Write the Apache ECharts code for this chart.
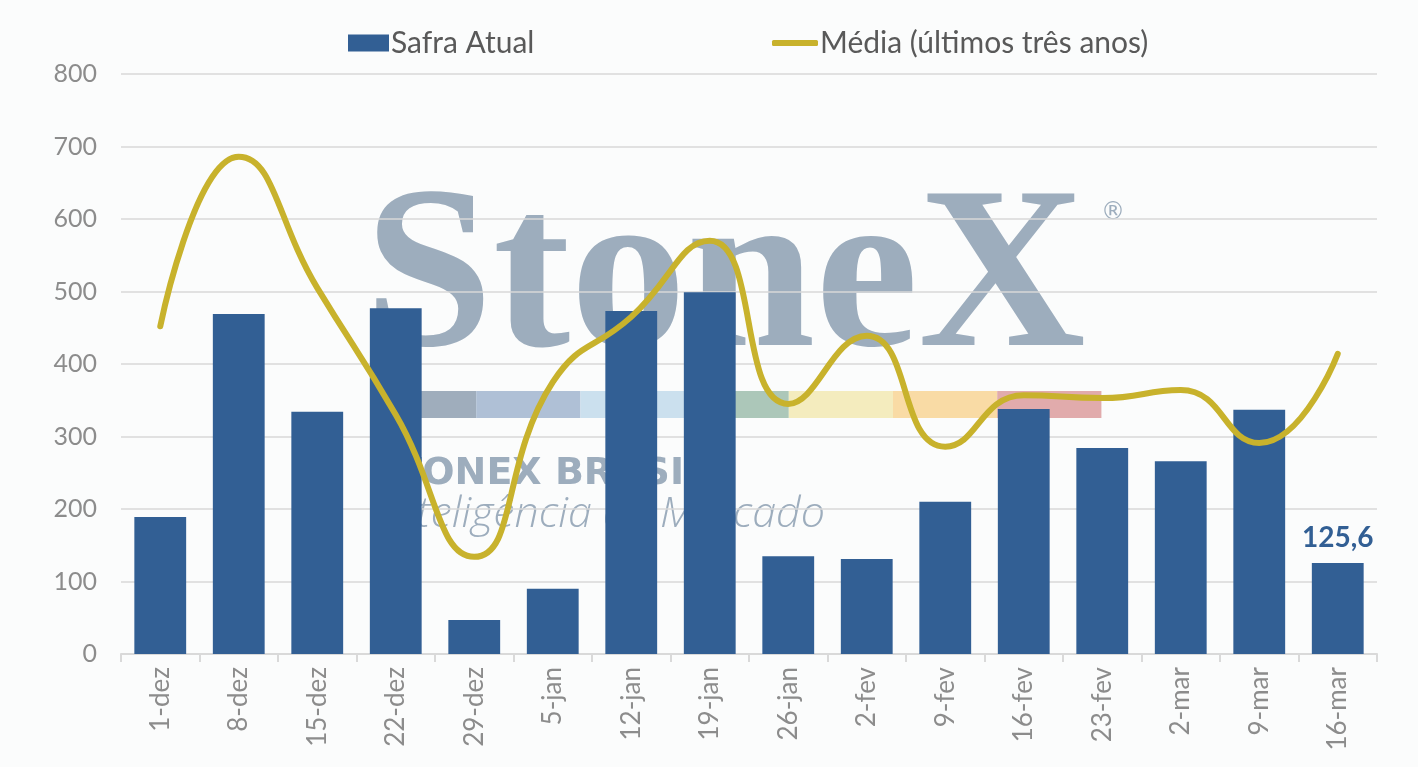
<!DOCTYPE html>
<html lang="pt">
<head>
<meta charset="UTF-8" />
<title>Safra Atual x Média</title>
</head>
<body>
<style>
* { margin: 0; padding: 0; }
body { background: #fbfcfc; }
#chart { width: 1418px; height: 767px; }
</style>
<div id="chart"></div>
<script src="https://cdn.jsdelivr.net/npm/echarts@6/dist/echarts.min.js"></script>
<script>
// semanas
const categories = ['1-dez', '8-dez', '15-dez', '22-dez', '29-dez', '5-jan', '12-jan', '19-jan',
  '26-jan', '2-fev', '9-fev', '16-fev', '23-fev', '2-mar', '9-mar', '16-mar'];
// Safra Atual
const safraAtual = [189, 469, 334, 477, 47, 90, 473, 499, 135, 131, 210, 338, 284, 266, 337, 125.6];
// Média (últimos três anos)
const media = [452, 686, 505, 330, 134, 375, 465, 570, 345, 439, 286, 357, 353, 364, 291, 414];

const BLUE = '#325f94';
const GOLD = '#c8b22c';
const WM = '#9dadbd';
const FONT = 'Lato';

// faixa colorida da marca d'água
const bandColors = ['#9aa9b8', '#abbdd4', '#c8deed', '#a8c4b5', '#f3ebba', '#f9d9a0', '#dfa7a8'];
const bandEls = bandColors.map(function (c, i) {
  return {
    type: 'rect', z: -1, silent: true,
    shape: { x: 372 + i * 104.2, y: 391, width: 104.2, height: 27 },
    style: { fill: c, opacity: 0.95 }
  };
});

const chart = echarts.init(document.getElementById('chart'));
chart.setOption({
  backgroundColor: '#fbfcfc',
  animation: false,
  textStyle: { fontFamily: FONT },
  graphic: bandEls.concat([
    {
      type: 'text', z: -1, silent: true, left: 364, top: 169,
      style: { text: 'StoneX', font: 'bold 232px "Liberation Serif"', fill: WM }
    },
    {
      type: 'text', z: -1, silent: true, left: 1101, top: 201,
      style: { text: '®', font: '24px "DejaVu Sans"', fill: WM }
    },
    {
      type: 'text', z: -1, silent: true, left: 369, top: 455,
      style: { text: 'STONEX BRASIL', font: 'bold 38px "DejaVu Sans"', fill: WM }
    },
    {
      type: 'text', z: -1, silent: true, left: 382, top: 493,
      style: { text: 'Inteligência de Mercado', font: 'italic 300 43px "Open Sans"', fill: WM }
    }
  ]),
  legend: [
    {
      top: 23,
      left: 343,
      itemWidth: 41,
      itemHeight: 17,
      textStyle: { color: '#595959', fontSize: 30, fontFamily: FONT, padding: [0, 0, 0, -3] },
      data: [{ name: 'Safra Atual', icon: 'rect' }]
    },
    {
      top: 23,
      left: 767,
      itemWidth: 46,
      itemHeight: 6,
      textStyle: { color: '#595959', fontSize: 30, fontFamily: FONT, padding: [0, 0, 0, -3] },
      data: [{ name: 'Média (últimos três anos)', icon: 'roundRect' }]
    }
  ],
  grid: { left: 121, right: 41, top: 74, bottom: 113 },
  xAxis: {
    type: 'category',
    data: categories,
    axisLine: { lineStyle: { color: '#d9d9d9', width: 2 } },
    axisTick: { show: true, length: 8, lineStyle: { color: '#d9d9d9', width: 2 } },
    axisLabel: { rotate: 90, color: '#8c8c8c', fontSize: 26, margin: 13, interval: 0 }
  },
  yAxis: {
    type: 'value',
    min: 0,
    max: 800,
    interval: 100,
    axisLine: { show: false },
    axisTick: { show: false },
    axisLabel: { color: '#8c8c8c', fontSize: 25, margin: 24 },
    splitLine: { lineStyle: { color: '#d9d9d9', width: 1.5 } }
  },
  series: [
    {
      name: 'Safra Atual',
      type: 'bar',
      data: safraAtual.map(function (v, i) {
        if (i === safraAtual.length - 1) {
          return {
            value: v,
            label: {
              show: true, position: 'top', distance: 11,
              formatter: function (p) { return String(p.value).replace('.', ','); },
              color: BLUE, fontSize: 28, fontWeight: 'bold', fontFamily: FONT
            }
          };
        }
        return v;
      }),
      barWidth: '66%',
      itemStyle: { color: BLUE }
    },
    {
      name: 'Média (últimos três anos)',
      type: 'line',
      data: media,
      smooth: 0.5,
      symbol: 'none',
      lineStyle: { color: GOLD, width: 6, cap: 'round' },
      itemStyle: { color: GOLD }
    }
  ]
});
</script>
</body>
</html>
